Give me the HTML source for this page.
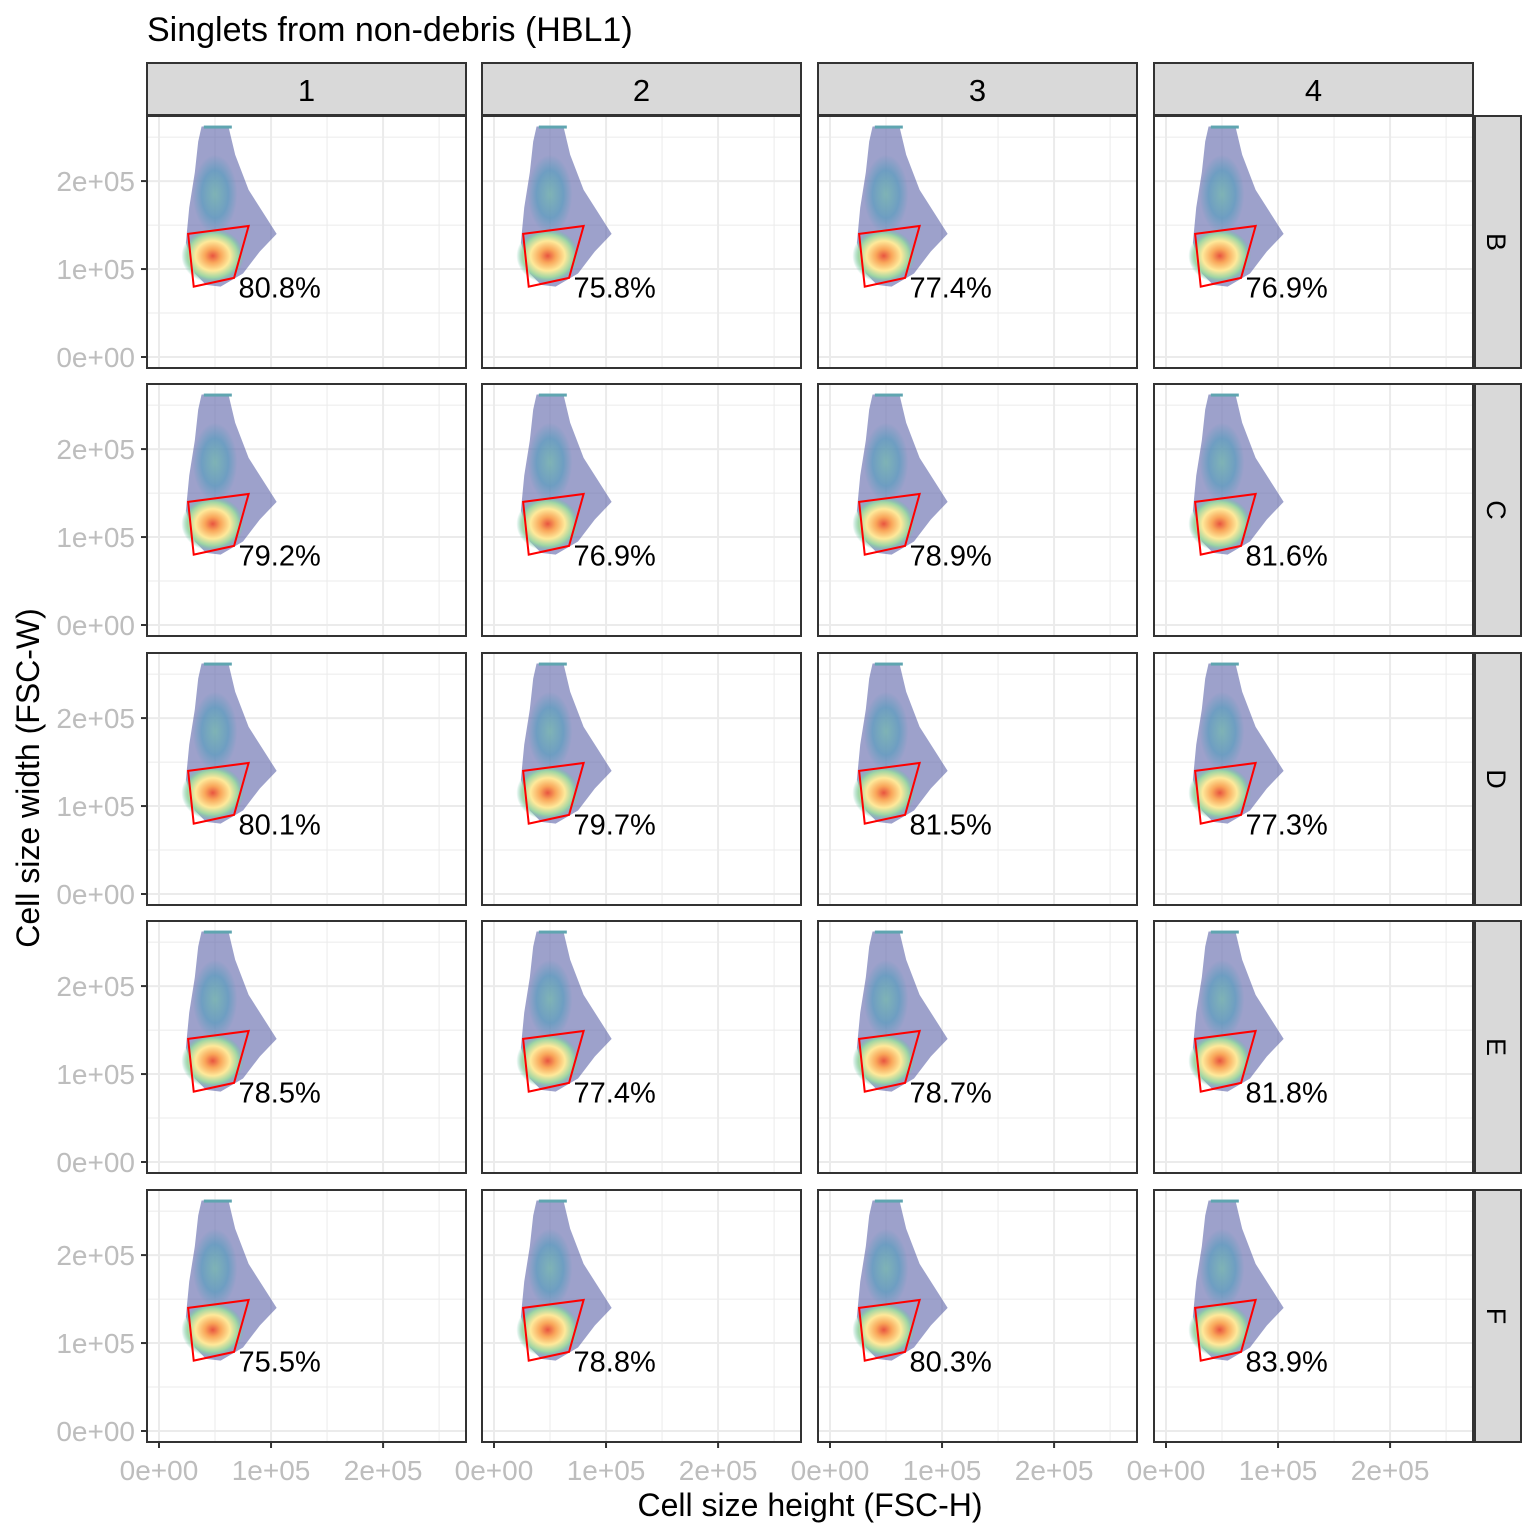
<!DOCTYPE html>
<html><head><meta charset="utf-8"><style>body{margin:0;background:#fff}svg{display:block}</style></head>
<body>
<svg id="chart" width="1536" height="1536" xmlns="http://www.w3.org/2000/svg" font-family="Liberation Sans, sans-serif">
<defs>
<radialGradient id="core" cx="0.5" cy="0.5" r="0.5">
<stop offset="0" stop-color="#e8553f"/><stop offset="0.25" stop-color="#f9a65a"/><stop offset="0.55" stop-color="#fee99a"/><stop offset="0.8" stop-color="#9fd6a4"/><stop offset="1" stop-color="#66c2a5" stop-opacity="0"/>
</radialGradient>
<radialGradient id="upper" cx="0.5" cy="0.5" r="0.5">
<stop offset="0" stop-color="#6cc0a8"/><stop offset="0.6" stop-color="#4f9cbc"/><stop offset="1" stop-color="#4f9cbc" stop-opacity="0"/>
</radialGradient>
</defs>
<text x="147" y="41" font-size="34">Singlets from non-debris (HBL1)</text>
<text x="810" y="1516" font-size="32" text-anchor="middle">Cell size height (FSC-H)</text>
<text transform="translate(39,778) rotate(-90)" font-size="32" text-anchor="middle">Cell size width (FSC-W)</text>
<g id="panels"></g>
</svg>
<script>
const colLabels = ["1","2","3","4"];
const rowLabels = ["B","C","D","E","F"];
const percents = [
 ["80.8%","75.8%","77.4%","76.9%"],
 ["79.2%","76.9%","78.9%","81.6%"],
 ["80.1%","79.7%","81.5%","77.3%"],
 ["78.5%","77.4%","78.7%","81.8%"],
 ["75.5%","78.8%","80.3%","83.9%"]
];
const gateX = [26000, 80000, 67000, 31000];
const gateY = [140000, 149000, 90000, 80000];
const xTicks = [0, 100000, 200000];
const yTicks = [0, 100000, 200000];
const xTickLabels = ["0e+00","1e+05","2e+05"];
const yTickLabels = ["0e+00","1e+05","2e+05"];
const cloudX = [38,62,68,80,95,105,90,75,55,42,32,24,27,32,35];
const cloudY = [262,262,230,190,160,140,120,95,80,82,95,130,170,210,245];

const NS="http://www.w3.org/2000/svg";
const g=document.getElementById('panels');
const colX=[147,482,818,1154], panelW=319;
const rowY=[116,384,653,921,1190], panelH=252;
function mk(t,a,p){const e=document.createElementNS(NS,t);for(const k in a)e.setAttribute(k,a[k]);(p||g).appendChild(e);return e;}
const xmin=-10700,xmax=274000,ymin=-12500,ymax=274000;

rowLabels.forEach((rl,ri)=>{
 colLabels.forEach((cl,ci)=>{
  const L=colX[ci],T=rowY[ri];
  const sx=v=>L+(v-xmin)/(xmax-xmin)*panelW;
  const sy=v=>T+panelH-(v-ymin)/(ymax-ymin)*panelH;
  const pg=mk('g',{});
  
  
  mk('rect',{x:L,y:T,width:panelW,height:panelH,fill:'#fff'},pg);
  for(let v=0;v<=250000;v+=50000){
   const major=v%100000===0;
   mk('line',{x1:sx(v),x2:sx(v),y1:T,y2:T+panelH,stroke:'#ebebeb','stroke-width':major?2:1},pg);
   mk('line',{x1:L,x2:L+panelW,y1:sy(v),y2:sy(v),stroke:'#ebebeb','stroke-width':major?2:1},pg);
  }
  const d=cloudX.map((x,i)=>(i?'L':'M')+sx(x*1000)+','+sy(cloudY[i]*1000)).join(' ')+'Z';
  const cloud=mk('path',{d:d,fill:'#5b63a8','fill-opacity':0.6},pg);
  
  
  mk('ellipse',{cx:sx(50000),cy:sy(185000),rx:sx(70000)-sx(50000),ry:sy(140000)-sy(185000),fill:'url(#upper)','fill-opacity':0.6},pg);
  mk('ellipse',{cx:sx(48000),cy:sy(115000),rx:sx(76000)-sx(48000),ry:sy(84000)-sy(115000),fill:'url(#core)'},pg);
  mk('rect',{x:sx(40000),y:sy(262000)-1,width:sx(65000)-sx(40000),height:3,fill:'#5fa5b0'},pg);
  const gp=gateX.map((x,i)=>sx(x)+','+sy(gateY[i])).join(' ');
  const gate=mk('polygon',{points:gp,fill:'none',stroke:'#ff0000','stroke-width':2},pg);
  
  
  const t=mk('text',{x:sx(71000),y:sy(70000)+2,'font-size':29,fill:'#000'},pg);
  t.textContent=percents[ri][ci];
  
  
  mk('rect',{x:L,y:T,width:panelW,height:panelH,fill:'none',stroke:'#333','stroke-width':2},pg);
  if(ci===0){
   yTicks.forEach((v,i)=>{
    mk('line',{x1:L-6,x2:L,y1:sy(v),y2:sy(v),stroke:'#333','stroke-width':2},pg);
    const tl=mk('text',{x:L-12,y:sy(v)+10,'font-size':28,fill:'#bdbdbd','text-anchor':'end'},pg);
    tl.textContent=yTickLabels[i];
    
    
   });
  }
  if(ri===rowLabels.length-1){
   xTicks.forEach((v,i)=>{
    mk('line',{x1:sx(v),x2:sx(v),y1:T+panelH,y2:T+panelH+6,stroke:'#333','stroke-width':2},pg);
    const tl=mk('text',{x:sx(v),y:T+panelH+38,'font-size':28,fill:'#bdbdbd','text-anchor':'middle'},pg);
    tl.textContent=xTickLabels[i];
    
    
   });
  }
  if(ri===0){
   const s=mk('rect',{x:L,y:63,width:panelW,height:52,fill:'#d9d9d9',stroke:'#333','stroke-width':2});
   
   
   const st=mk('text',{x:L+panelW/2,y:101,'font-size':31,'text-anchor':'middle'});
   st.textContent=cl;
   
   
  }
 });
 const T=rowY[ri];
 const s=mk('rect',{x:1475,y:T,width:46,height:panelH,fill:'#d9d9d9',stroke:'#333','stroke-width':2});
 
 
 const st=mk('text',{transform:'translate(1487,'+(T+panelH/2)+') rotate(90)','font-size':27,'text-anchor':'middle'});
 st.textContent=rl;
 
 
});
</script>
</body></html>
